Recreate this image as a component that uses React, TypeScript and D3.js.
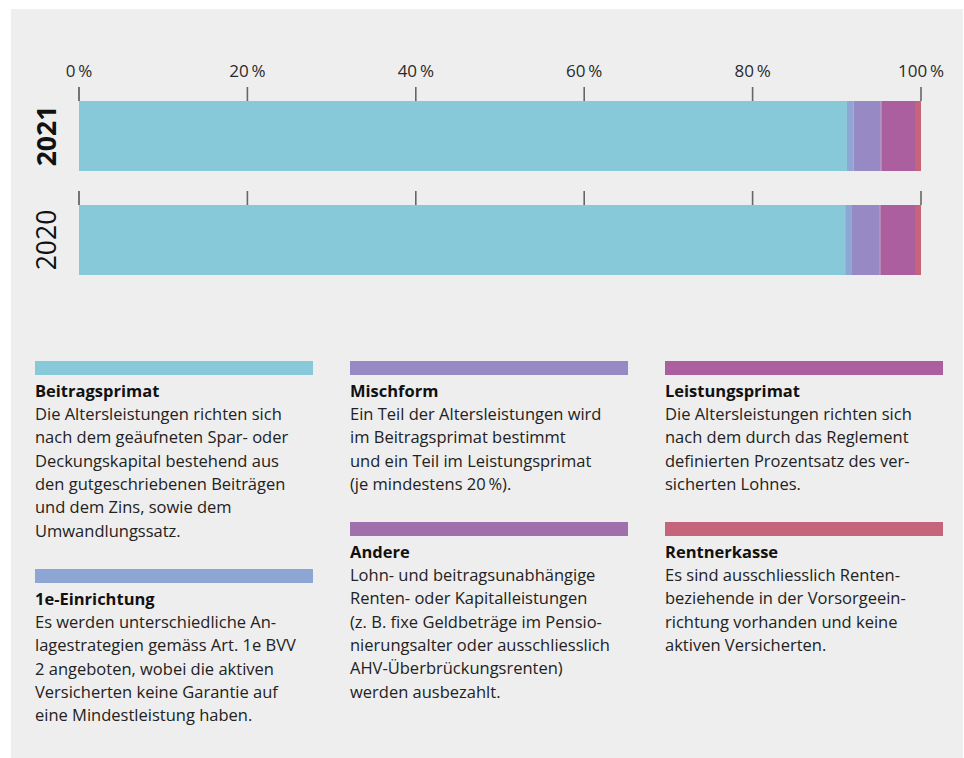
import React from "react";
import * as d3 from "d3";

const years = ["2021", "2020"];
const categories = ["Beitragsprimat", "1e-Einrichtung", "Mischform", "Andere", "Leistungsprimat", "Rentnerkasse"];
const values2021 = [91.2, 0.8, 3.2, 0.1, 4.1, 0.6];
const values2020 = [91.0, 0.8, 3.3, 0.1, 4.2, 0.6];
const colors = ["#87C9D9", "#8EA6D3", "#978AC4", "#A070AD", "#AB5F9F", "#C6647C"];
const tickValues = [0, 20, 40, 60, 80, 100];

const descriptions: string[][] = [
  ["Die Altersleistungen richten sich", "nach dem geäufneten Spar- oder", "Deckungskapital bestehend aus", "den gutgeschriebenen Beiträgen", "und dem Zins, sowie dem", "Umwandlungssatz."],
  ["Es werden unterschiedliche An-", "lagestrategien gemäss Art. 1e BVV", "2 angeboten, wobei die aktiven", "Versicherten keine Garantie auf", "eine Mindestleistung haben."],
  ["Ein Teil der Altersleistungen wird", "im Beitragsprimat bestimmt", "und ein Teil im Leistungsprimat", "(je mindestens 20\u2009%)."],
  ["Lohn- und beitragsunabhängige", "Renten- oder Kapitalleistungen", "(z. B. fixe Geldbeträge im Pensio-", "nierungsalter oder ausschliesslich", "AHV-Überbrückungsrenten)", "werden ausbezahlt."],
  ["Die Altersleistungen richten sich", "nach dem durch das Reglement", "definierten Prozentsatz des ver-", "sicherten Lohnes."],
  ["Es sind ausschliesslich Renten-", "beziehende in der Vorsorgeein-", "richtung vorhanden und keine", "aktiven Versicherten."],
];

// legend slot per category: [column, row]
const legendSlots: [number, number][] = [[0, 0], [0, 1], [1, 0], [1, 1], [2, 0], [2, 1]];

const FONT = "'Open Sans', 'Noto Sans', sans-serif";

export default function App() {
  const W = 964, H = 758;
  const x = d3.scaleLinear().domain([0, 100]).range([79, 921]);
  const y = d3.scaleBand<string>().domain(years).range([101, 275]).paddingInner(34 / 104).paddingOuter(0);

  const rows = years.map((yr, i) => {
    const vals = i === 0 ? values2021 : values2020;
    const obj: any = { year: yr };
    categories.forEach((c, j) => (obj[c] = vals[j]));
    return obj;
  });
  const series = d3.stack<any>().keys(categories)(rows);

  const colX = [35, 350, 665];
  const rowBarY = [361, 522];
  const col0RowBarY = [361, 569];
  const lineH = 23.3;

  return (
    <svg width={W} height={H} style={{ position: "absolute", left: 0, top: 0 }} fontFamily={FONT}>
      <rect x={0} y={0} width={W} height={H} fill="#ffffff" />
      <rect x={11} y={9} width={952} height={749} fill="#EEEEEE" />

      {/* tick labels */}
      {tickValues.map((t) => (
        <text key={"tl" + t} x={x(t)} y={77} textAnchor="middle" fontSize={17} fill="#2a2a2a">
          {t + "\u2009%"}
        </text>
      ))}

      {/* ticks above each bar */}
      {years.map((yr) =>
        tickValues.map((t) => (
          <line key={"tk" + yr + t} x1={x(t)} x2={x(t)} y1={(y(yr) as number) - 14} y2={y(yr) as number} stroke={t === 0 ? "#222" : "#666"} strokeWidth={t === 0 ? 1.2 : 1.6} />
        ))
      )}

      {/* bars */}
      {series.map((s, i) => (
        <g key={s.key} fill={colors[i]}>
          {s.map((d: any) => (
            <rect key={d.data.year} x={x(d[0])} y={y(d.data.year)} width={Math.max(0, x(d[1]) - x(d[0]))} height={y.bandwidth()} />
          ))}
        </g>
      ))}

      {/* year labels */}
      {years.map((yr, i) => {
        const cy = (y(yr) as number) + y.bandwidth() / 2;
        return (
          <text key={"yl" + yr} transform={`translate(56,${cy}) rotate(-90)`} textAnchor="middle" fontSize={26.5} fontWeight={i === 0 ? 700 : 400} fill="#111">
            {yr}
          </text>
        );
      })}

      {/* legend */}
      {categories.map((c, i) => {
        const [col, row] = legendSlots[i];
        const bx = colX[col];
        const by = col === 0 ? col0RowBarY[row] : rowBarY[row];
        return (
          <g key={"lg" + c}>
            <rect x={bx} y={by} width={278} height={14} fill={colors[i]} />
            <text x={bx} y={by + 36} fontSize={16.5} fontWeight={700} fill="#111">{c}</text>
            {descriptions[i].map((ln, k) => (
              <text key={k} x={bx} y={by + 59 + k * lineH} fontSize={16.5} fill="#222">{ln}</text>
            ))}
          </g>
        );
      })}
    </svg>
  );
}
